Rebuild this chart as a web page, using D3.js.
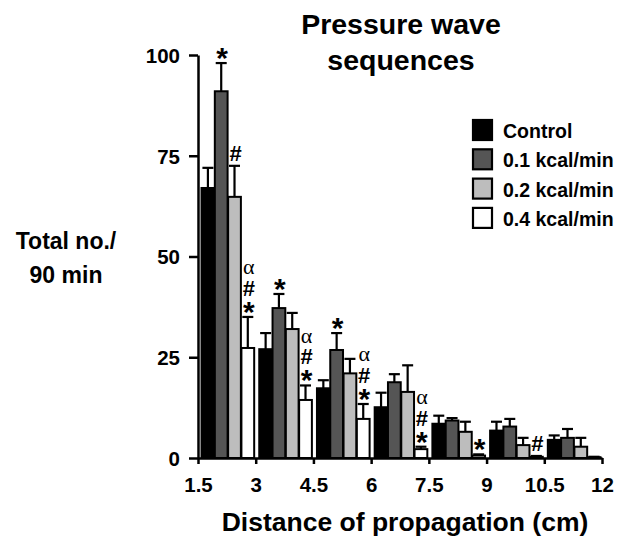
<!DOCTYPE html>
<html>
<head>
<meta charset="utf-8">
<script src="https://cdn.jsdelivr.net/npm/d3@7"></script>
<style>
  body { margin: 0; background: #fff; }
  svg text { font-family: "Liberation Sans", Arial, sans-serif; }
</style>
</head>
<body>
<div id="chart"></div>
<script>
// bins start (cm), each bin 1.5 cm wide
const binStarts = [1.5, 3, 4.5, 6, 7.5, 9, 10.5];
const seriesNames = ["Control", "0.1 kcal/min", "0.2 kcal/min", "0.4 kcal/min"];
const seriesColors = ["#000000", "#555555", "#bdbdbd", "#ffffff"];

// means per series (one value per bin)
const controlVals = [67, 27, 17.3, 12.6, 8.5, 6.8, 4.5];
const kcal01Vals  = [91, 37.2, 26.8, 18.8, 9.3, 7.8, 5];
const kcal02Vals  = [64.8, 32, 21, 16.4, 6.5, 3.2, 2.8];
const kcal04Vals  = [27.3, 14.4, 9.7, 2.2, 0.6, 0.3, 0.2];

// mean + SEM tops
const controlErr = [72, 31, 19.3, 16.2, 10.5, 9, 5.6];
const kcal01Err  = [98, 40.7, 31, 20.8, 9.9, 9.7, 7.2];
const kcal02Err  = [72.5, 36, 24.6, 23, 9, 5, 5];
const kcal04Err  = [35, 18, 13.4, 2.8, 0.9, 0.5, 0.3];

// significance marks: [bin index, series index, labels top to bottom]
const marks = [
  [0, 1, ["*"]], [0, 2, ["#"]], [0, 3, ["α", "#", "*"]],
  [1, 1, ["*"]], [1, 3, ["α", "#", "*"]],
  [2, 1, ["*"]], [2, 3, ["α", "#", "*"]],
  [3, 3, ["α", "#", "*"]],
  [4, 3, ["*"]],
  [5, 3, ["#"]]
];

const xTicks = [1.5, 3, 4.5, 6, 7.5, 9, 10.5, 12];
const yTicks = [0, 25, 50, 75, 100];

const allVals = [controlVals, kcal01Vals, kcal02Vals, kcal04Vals];
const allErr = [controlErr, kcal01Err, kcal02Err, kcal04Err];

const width = 618, height = 552;
const svg = d3.select("#chart").append("svg")
  .attr("width", width).attr("height", height);

const x = d3.scaleLinear().domain([1.5, 12]).range([198, 602]);
const y = d3.scaleLinear().domain([0, 100]).range([458, 55]);
const binW = x(3) - x(1.5);
const sub = d3.scaleBand().domain(d3.range(4)).range([3, binW - 1]).padding(0.04);

const rows = [];
binStarts.forEach((b, i) => {
  seriesNames.forEach((s, j) => {
    rows.push({ bin: b, bi: i, si: j, v: allVals[j][i], e: allErr[j][i] });
  });
});

// error bars (upward only)
const eb = svg.append("g").attr("stroke", "#000").attr("stroke-width", 2.2);
rows.forEach(d => {
  const cx = x(d.bin) + sub(d.si) + sub.bandwidth() / 2;
  eb.append("line").attr("x1", cx).attr("x2", cx).attr("y1", y(d.v)).attr("y2", y(d.e));
  eb.append("line").attr("x1", cx - 5.5).attr("x2", cx + 5.5).attr("y1", y(d.e)).attr("y2", y(d.e));
});

// bars
svg.append("g").selectAll("rect")
  .data(rows)
  .join("rect")
  .attr("x", d => x(d.bin) + sub(d.si))
  .attr("width", sub.bandwidth())
  .attr("y", d => y(d.v))
  .attr("height", d => y(0) - y(d.v))
  .attr("fill", d => seriesColors[d.si])
  .attr("stroke", "#000")
  .attr("stroke-width", 2);

// significance marks, one text per stack, glyphs placed upward from the cap
// off = baseline offset from the glyph's visual centre
const glyph = {
  "*": { size: 30, off: 15, family: "'Liberation Sans', Arial, sans-serif", weight: "bold" },
  "#": { size: 22, off: 7.5, family: "'Liberation Sans', Arial, sans-serif", weight: "bold" },
  "α": { size: 22, off: 4.5, family: "'Liberation Serif', serif", weight: "normal" }
};
marks.forEach(([bi, si, labels]) => {
  const cx = x(binStarts[bi]) + sub(si) + sub.bandwidth() / 2 + 1;
  const t = svg.append("text").attr("text-anchor", "middle");
  let cy = y(allErr[si][bi]) - (labels[labels.length - 1] === "*" ? 10 : 12);
  for (let k = labels.length - 1; k >= 0; k--) {
    const g = glyph[labels[k]];
    t.append("tspan")
      .attr("x", cx)
      .attr("y", cy + g.off)
      .style("font-family", g.family)
      .attr("font-weight", g.weight)
      .attr("font-size", g.size)
      .text(labels[k]);
    cy -= 18.5;
  }
});

// axes
const yAxis = svg.append("g")
  .attr("transform", `translate(${x(1.5)},0)`)
  .call(d3.axisLeft(y).tickValues(yTicks).tickSize(9).tickSizeOuter(0));
const xAxis = svg.append("g")
  .attr("transform", `translate(0,${y(0)})`)
  .call(d3.axisBottom(x).tickValues(xTicks).tickFormat(d => d).tickSize(6).tickSizeOuter(0));
[yAxis, xAxis].forEach(g => {
  g.selectAll("path, line").attr("stroke", "#000").attr("stroke-width", 2.5);
  g.selectAll("text").attr("font-size", 20.5).attr("font-weight", "bold")
    .attr("fill", "#000").style("font-family", "'Liberation Sans', Arial, sans-serif");
});
yAxis.selectAll("text").attr("dy", "0.36em").attr("x", -18);
xAxis.selectAll("text").attr("dy", 0).attr("y", 34);

// titles
const title = svg.append("text").attr("text-anchor", "middle")
  .attr("font-size", 28.5).attr("font-weight", "bold");
title.append("tspan").attr("x", 401).attr("y", 34).text("Pressure wave");
title.append("tspan").attr("x", 401).attr("y", 70).text("sequences");

const yl = svg.append("text").attr("text-anchor", "middle")
  .attr("font-size", 23).attr("font-weight", "bold");
yl.append("tspan").attr("x", 66).attr("y", 249).text("Total no./");
yl.append("tspan").attr("x", 66).attr("y", 283).text("90 min");

svg.append("text").attr("x", 405).attr("y", 531).attr("text-anchor", "middle")
  .attr("font-size", 26.5).attr("font-weight", "bold")
  .text("Distance of propagation (cm)");

// legend
const leg = svg.append("g").attr("transform", "translate(473,120)");
seriesNames.forEach((s, i) => {
  const g = leg.append("g").attr("transform", `translate(0,${i * 29.3})`);
  g.append("rect").attr("width", 19).attr("height", 20)
    .attr("fill", seriesColors[i]).attr("stroke", "#000").attr("stroke-width", 2.2);
  g.append("text").attr("x", 30).attr("y", 18)
    .attr("font-size", 19.5).attr("font-weight", "bold").text(s);
});
</script>
</body>
</html>
